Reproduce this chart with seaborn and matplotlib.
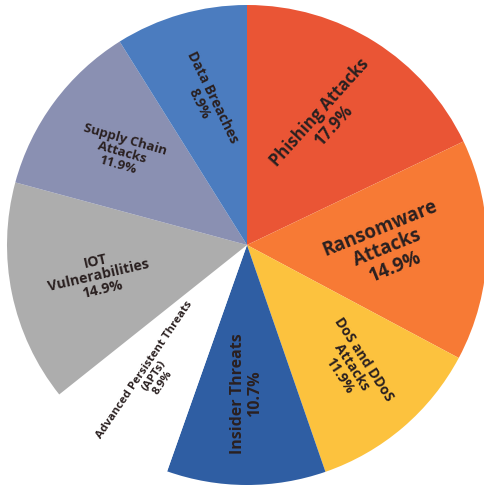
import matplotlib
matplotlib.use("Agg")
import matplotlib.pyplot as plt
import seaborn as sns
import numpy as np

# Share of reported cybersecurity threats (%)
categories = [
    "Phishing Attacks",
    "Ransomware\nAttacks",
    "DoS and DDoS\nAttacks",
    "Insider Threats",
    "Advanced Persistent Threats\n(APTs)",
    "IOT\nVulnerabilities",
    "Supply Chain\nAttacks",
    "Data Breaches",
]
shares = [17.9, 14.9, 11.9, 10.7, 8.9, 14.9, 11.9, 8.9]

colors = ["#EA5535", "#F77A35", "#FCC23E", "#2F5EA3",
          "#FFFFFF", "#ADADAD", "#8A90B2", "#4B7CBF"]
rotations = [48, 22, -57, 90, 56, 13, -16, -64]
font_sizes = [12, 13.5, 10, 11.5, 8.2, 10.3, 9.5, 10]
label_radius = [0.62, 0.585, 0.67, 0.62, 0.67, 0.63, 0.65, 0.625]

sns.set_theme(style="white")
plt.rcParams["font.family"] = ["Open Sans", "DejaVu Sans"]

fig = plt.figure(figsize=(4.84, 4.86), dpi=100)
ax = fig.add_axes([0, 0, 1, 1])

wedges, _ = ax.pie(shares, colors=colors, startangle=90, counterclock=False,
                   radius=1.0, wedgeprops=dict(linewidth=0))

for w, cat, val, rot, fs, rr in zip(wedges, categories, shares, rotations,
                                     font_sizes, label_radius):
    mid = np.deg2rad((w.theta1 + w.theta2) / 2)
    x, y = rr * np.cos(mid), rr * np.sin(mid)
    ax.text(x, y, f"{cat}\n{val}%", ha="center", va="center",
            rotation=rot, rotation_mode="anchor", fontsize=fs,
            fontweight="bold", color="#2a2020", linespacing=1.05)

ax.set_aspect("auto")
ax.set_xlim(-247 / 240, (484 - 247) / 240)
ax.set_ylim(-(486 - 245) / 240, 245 / 240)
ax.axis("off")

fig.savefig("out.png", dpi=100, facecolor="white")
